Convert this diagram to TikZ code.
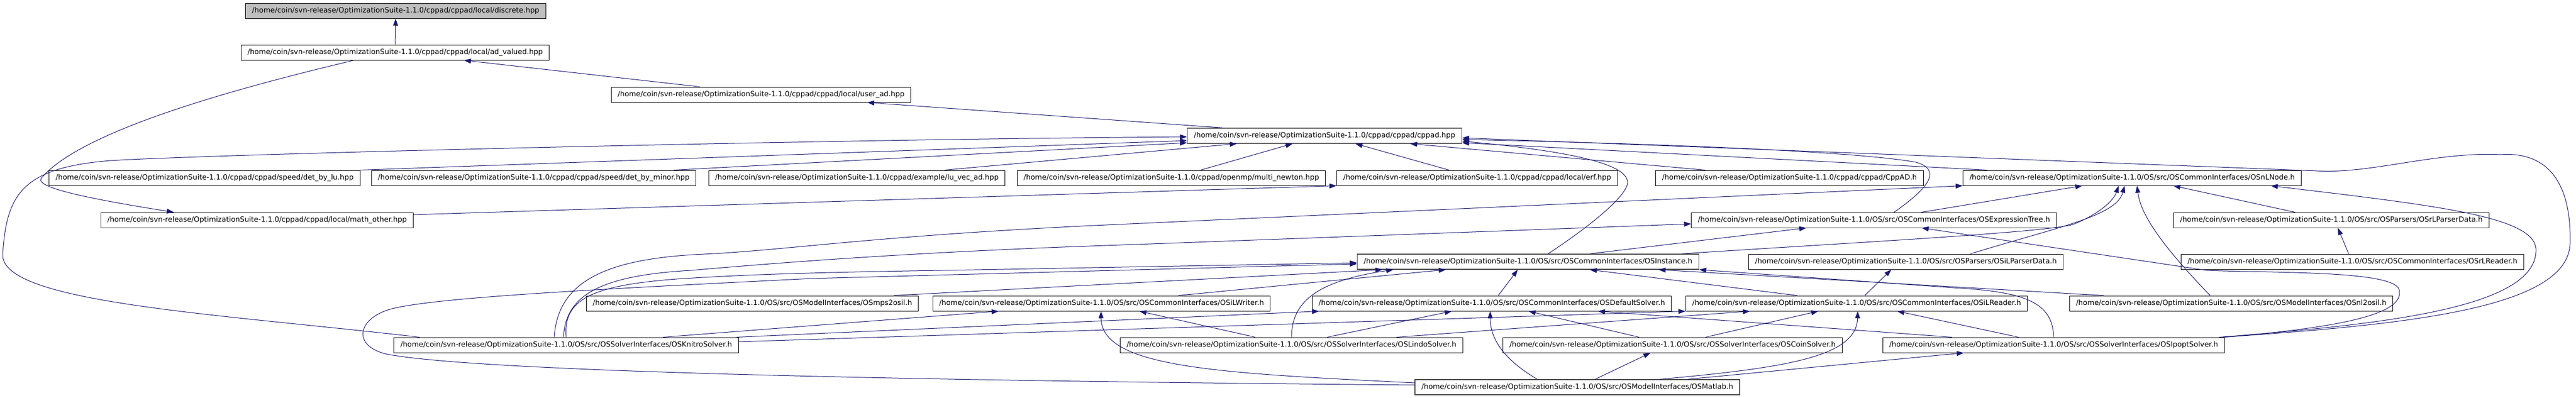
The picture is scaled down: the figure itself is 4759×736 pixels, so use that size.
\documentclass[tikz,border=0pt]{standalone}
\usepackage{fontspec}
\setmainfont{DejaVu Sans}
\usetikzlibrary{arrows.meta}

\definecolor{depblue}{HTML}{191970}
\definecolor{rootgray}{HTML}{BFBFBF}

\begin{document}
\begin{tikzpicture}[x=1pt, y=-1pt,
	file/.style={draw=black, fill=white, line width=1pt, font=\fontsize{13.3}{16}\selectfont, minimum height=28pt, inner xsep=12pt, inner ysep=0pt, text height=10pt, text depth=3pt},
	rootfile/.style={file, fill=rootgray},
	greyfile/.style={file, draw=black!70, line width=1.4pt},
	dep/.style={draw=depblue, line width=1pt, -{Triangle[length=13pt, width=9pt]}}]
	\useasboundingbox (0,0) rectangle (4759,736);

	\node[rootfile] (discrete) at (731,20) {/home/coin/svn-release/OptimizationSuite-1.1.0/cppad/cppad/local/discrete.hpp};
	\node[file] (advalued) at (730,97) {/home/coin/svn-release/OptimizationSuite-1.1.0/cppad/cppad/local/ad\_valued.hpp};
	\node[file] (userad) at (1406,175) {/home/coin/svn-release/OptimizationSuite-1.1.0/cppad/cppad/local/user\_ad.hpp};
	\node[greyfile] (cppad) at (2447,251) {/home/coin/svn-release/OptimizationSuite-1.1.0/cppad/cppad/cppad.hpp};
	\node[file] (detlu) at (378,329) {/home/coin/svn-release/OptimizationSuite-1.1.0/cppad/cppad/speed/det\_by\_lu.hpp};
	\node[file] (detminor) at (986,329) {/home/coin/svn-release/OptimizationSuite-1.1.0/cppad/cppad/speed/det\_by\_minor.hpp};
	\node[file] (luvecad) at (1583,329) {/home/coin/svn-release/OptimizationSuite-1.1.0/cppad/example/lu\_vec\_ad.hpp};
	\node[file] (multinewton) at (2164,329) {/home/coin/svn-release/OptimizationSuite-1.1.0/cppad/openmp/multi\_newton.hpp};
	\node[file] (erf) at (2729,329) {/home/coin/svn-release/OptimizationSuite-1.1.0/cppad/cppad/local/erf.hpp};
	\node[file] (cppadh) at (3306,329) {/home/coin/svn-release/OptimizationSuite-1.1.0/cppad/cppad/CppAD.h};
	\node[file] (nlnode) at (3939,329) {/home/coin/svn-release/OptimizationSuite-1.1.0/OS/src/OSCommonInterfaces/OSnLNode.h};
	\node[file] (mathother) at (475,407) {/home/coin/svn-release/OptimizationSuite-1.1.0/cppad/cppad/local/math\_other.hpp};
	\node[file] (exprtree) at (3462,407) {/home/coin/svn-release/OptimizationSuite-1.1.0/OS/src/OSCommonInterfaces/OSExpressionTree.h};
	\node[file] (rlparserdata) at (4307,407) {/home/coin/svn-release/OptimizationSuite-1.1.0/OS/src/OSParsers/OSrLParserData.h};
	\node[greyfile] (instance) at (2823,484) {/home/coin/svn-release/OptimizationSuite-1.1.0/OS/src/OSCommonInterfaces/OSInstance.h};
	\node[file] (ilparserdata) at (3521,484) {/home/coin/svn-release/OptimizationSuite-1.1.0/OS/src/OSParsers/OSiLParserData.h};
	\node[file] (rlreader) at (4346,484) {/home/coin/svn-release/OptimizationSuite-1.1.0/OS/src/OSCommonInterfaces/OSrLReader.h};
	\node[file] (mps2osil) at (1390,561) {/home/coin/svn-release/OptimizationSuite-1.1.0/OS/src/OSModelInterfaces/OSmps2osil.h};
	\node[file] (ilwriter) at (2035,561) {/home/coin/svn-release/OptimizationSuite-1.1.0/OS/src/OSCommonInterfaces/OSiLWriter.h};
	\node[file] (defaultsolver) at (2756,561) {/home/coin/svn-release/OptimizationSuite-1.1.0/OS/src/OSCommonInterfaces/OSDefaultSolver.h};
	\node[file] (ilreader) at (3430,561) {/home/coin/svn-release/OptimizationSuite-1.1.0/OS/src/OSCommonInterfaces/OSiLReader.h};
	\node[file] (nl2osil) at (4122,561) {/home/coin/svn-release/OptimizationSuite-1.1.0/OS/src/OSModelInterfaces/OSnl2osil.h};
	\node[file] (knitro) at (1046,638) {/home/coin/svn-release/OptimizationSuite-1.1.0/OS/src/OSSolverInterfaces/OSKnitroSolver.h};
	\node[file] (lindo) at (2386,638) {/home/coin/svn-release/OptimizationSuite-1.1.0/OS/src/OSSolverInterfaces/OSLindoSolver.h};
	\node[file] (coin) at (3090,638) {/home/coin/svn-release/OptimizationSuite-1.1.0/OS/src/OSSolverInterfaces/OSCoinSolver.h};
	\node[file] (ipopt) at (3794,638) {/home/coin/svn-release/OptimizationSuite-1.1.0/OS/src/OSSolverInterfaces/OSIpoptSolver.h};
	\node[greyfile] (matlab) at (2914,716) {/home/coin/svn-release/OptimizationSuite-1.1.0/OS/src/OSModelInterfaces/OSMatlab.h};

	\draw[dep] (advalued.north) -- (discrete.south);
	\draw[dep] ([xshift=-113pt]userad.north) -- ([xshift=127pt]advalued.south);
	\draw[dep] ([xshift=-76pt]advalued.south) .. controls (450,160) and (150,240) .. (76,330) .. controls (64,348) and (180,370) .. ([xshift=-154pt]mathother.north);
	\draw[dep] ([xshift=-189pt]cppad.north) -- ([xshift=196pt]userad.south);
	\draw[dep] (detlu.north east) -- ([yshift=-9pt]cppad.west);
	\draw[dep] ([xshift=259pt]detminor.north) -- ([yshift=-13pt]cppad.west);
	\draw[dep] ([xshift=-271pt]knitro.north) .. controls (400,580) and (0,560) .. (5,470) .. controls (12,360) and (40,310) .. (204,297) .. controls (400,285) and (1500,258) .. ([yshift=-2pt]cppad.west);
	\draw[dep] ([xshift=162pt]luvecad.north) -- ([xshift=-162pt]cppad.south);
	\draw[dep] ([xshift=54pt]multinewton.north) -- ([xshift=-59pt]cppad.south);
	\draw[dep] ([xshift=-52pt]erf.north) -- ([xshift=57pt]cppad.south);
	\draw[dep] ([xshift=-156pt]cppadh.north) -- ([xshift=158pt]cppad.south);
	\draw[dep] ([xshift=-268pt]nlnode.north) -- ([yshift=-13pt]cppad.east);
	\draw[dep] ([xshift=37pt]instance.north) .. controls (2950,410) and (3020,350) .. (3005,330) .. controls (2990,295) and (2850,275) .. ([yshift=-10pt]cppad.east);
	\draw[dep] ([xshift=37pt]exprtree.north) .. controls (3560,350) and (3590,315) .. (3540,300) .. controls (3400,275) and (2900,262) .. ([yshift=-7pt]cppad.east);
	\draw[dep] ([xshift=312pt]ipopt.north) .. controls (4450,600) and (4745,570) .. (4748,450) .. controls (4751,330) and (4700,280) .. (4620,286) .. controls (4500,280) and (4380,322) .. (4280,316) -- ([yshift=-4pt]cppad.east);
	\draw[dep] ([yshift=10pt]mathother.east) -- (erf.south west);
	\draw[dep] ([xshift=88pt]exprtree.north) -- ([xshift=-92pt]nlnode.south);
	\draw[dep] ([xshift=284pt]instance.north) .. controls (3400,450) and (3780,430) .. (3830,415) .. controls (3880,395) and (3905,370) .. ([xshift=-25pt]nlnode.south);
	\draw[dep] ([xshift=119pt]ilparserdata.north) .. controls (3800,420) and (3910,400) .. ([xshift=-14pt]nlnode.south);
	\draw[dep] ([xshift=-39pt]nl2osil.north) .. controls (4000,460) and (3955,400) .. ([xshift=9pt]nlnode.south);
	\draw[dep] ([xshift=-67pt]rlparserdata.north) -- ([xshift=76pt]nlnode.south);
	\draw[dep] ([xshift=306pt]ipopt.north) .. controls (4400,600) and (4690,570) .. (4685,460) .. controls (4680,400) and (4500,380) .. ([xshift=256pt]nlnode.south);
	\draw[dep] ([xshift=316pt]ipopt.north) .. controls (4330,605) and (4445,580) .. (4432,535) .. controls (4420,500) and (4200,505) .. (4077,500) -- ([xshift=88pt]exprtree.south);
	\draw[dep] ([xshift=-22pt]knitro.north) .. controls (1030,520) and (1120,478) .. (1300,470) .. controls (1450,463) and (1600,438) .. (2000,418) -- (nlnode.south west);
	\draw[dep] ([xshift=-5pt]knitro.north) .. controls (1045,550) and (1100,510) .. (1276,500) .. controls (1450,485) and (1700,465) .. (2100,452) -- ([yshift=-7pt]exprtree.west);
	\draw[dep] (knitro.north) .. controls (1040,555) and (1090,528) .. (1250,516) .. controls (1400,506) and (1550,503) .. (1800,499) -- ([yshift=-2pt]instance.west);
	\draw[dep] ([yshift=4pt]matlab.west) .. controls (1800,705) and (900,690) .. (715,655) .. controls (650,640) and (660,590) .. (720,572) .. controls (800,550) and (1100,535) .. (1500,515) -- ([yshift=-4pt]instance.west);
	\draw[dep] ([xshift=261pt]mps2osil.north) -- ([xshift=-269pt]instance.south);
	\draw[dep] (lindo.north) .. controls (2386,560) and (2430,520) .. ([xshift=-249pt]instance.south);
	\draw[dep] ([xshift=142pt]ilwriter.north) -- ([xshift=-152pt]instance.south);
	\draw[dep] ([xshift=12pt]defaultsolver.north) -- ([xshift=-19pt]instance.south);
	\draw[dep] ([xshift=-110pt]ilreader.north) -- ([xshift=114pt]instance.south);
	\draw[dep] ([xshift=-236pt]nl2osil.north) -- ([xshift=241pt]instance.south);
	\draw[dep] (ipopt.north) .. controls (3792,570) and (3760,545) .. (3650,535) -- (instance.south east);
	\draw[dep] ([xshift=114pt]instance.north) -- ([xshift=-125pt]exprtree.south);
	\draw[dep] ([xshift=15pt]ilreader.north) -- ([xshift=-27pt]ilparserdata.south);
	\draw[dep] ([xshift=-7pt]rlreader.north) -- ([xshift=12pt]rlparserdata.south);
	\draw[dep] ([xshift=179pt]knitro.north) -- ([xshift=-190pt]ilwriter.south);
	\draw[dep] ([xshift=-67pt]lindo.north) -- ([xshift=70pt]ilwriter.south);
	\draw[dep] ([yshift=8pt]matlab.west) .. controls (2250,690) and (2035,680) .. ([xshift=-1pt]ilwriter.south);
	\draw[dep] ([xshift=315pt]knitro.north) -- ([xshift=-319pt]defaultsolver.south);
	\draw[dep] ([xshift=66pt]lindo.north) -- ([xshift=-74pt]defaultsolver.south);
	\draw[dep] ([xshift=-74pt]matlab.north) .. controls (2770,660) and (2753,620) .. ([xshift=-3pt]defaultsolver.south);
	\draw[dep] ([xshift=-62pt]coin.north) -- ([xshift=68pt]defaultsolver.south);
	\draw[dep] ([xshift=-188pt]ipopt.north) -- ([xshift=196pt]defaultsolver.south);
	\draw[dep] ([yshift=6pt]knitro.east) -- (ilreader.south west);
	\draw[dep] ([xshift=194pt]lindo.north) -- ([xshift=-197pt]ilreader.south);
	\draw[dep] ([xshift=61pt]coin.north) -- ([xshift=-71pt]ilreader.south);
	\draw[dep] ([xshift=153pt]matlab.north) .. controls (3300,680) and (3430,660) .. ([xshift=2pt]ilreader.south);
	\draw[dep] ([xshift=-65pt]ipopt.north) -- ([xshift=75pt]ilreader.south);
	\draw[dep] ([xshift=33pt]matlab.north) -- ([xshift=-41pt]coin.south);
	\draw[dep] ([xshift=204pt]matlab.north) -- ([xshift=-166pt]ipopt.south);
\end{tikzpicture}
\end{document}
